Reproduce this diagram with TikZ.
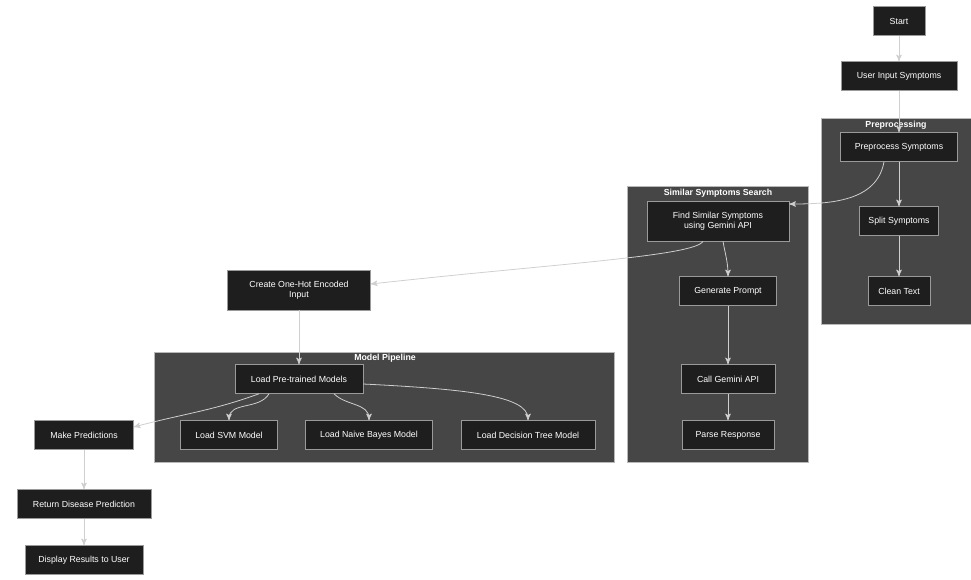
\documentclass[tikz,border=0pt]{standalone}
\usepackage{fontspec}
\setmainfont{Liberation Sans}
\usepackage{xcolor}
\usetikzlibrary{arrows}
\definecolor{nodefill}{HTML}{1E1E1E}
\definecolor{nodeline}{HTML}{9A9A9A}
\definecolor{clusterfill}{HTML}{464646}
\definecolor{clusterline}{HTML}{B8B8B8}
\definecolor{edgecol}{HTML}{CFCFCF}
\tikzset{
	proc node/.style={rectangle,draw=nodeline,line width=0.3pt,fill=nodefill,text=white,
		font=\fontsize{5}{6}\selectfont,align=center,minimum height=0.58cm,inner sep=1pt},
	cluster/.style={rectangle,draw=clusterline,line width=0.3pt,fill=clusterfill,inner sep=0pt},
	cluster title/.style={text=white,font=\fontsize{5}{6}\selectfont\bfseries,inner sep=1pt},
	flow/.style={draw=edgecol,line width=0.45pt}
}

\begin{document}
\begin{tikzpicture}[x=0.02cm,y=-0.02cm,->,>=stealth']
	\useasboundingbox (0,0) rectangle (971,579);
	\node [cluster,minimum width=3.0cm,minimum height=4.12cm] (prepbox) at (896,221) {};
	\node [cluster,minimum width=3.62cm,minimum height=5.52cm] (searchbox) at (717.5,324) {};
	\node [cluster,minimum width=9.2cm,minimum height=2.2cm] (modelbox) at (384,407) {};
	\node [cluster title] (preptitle) at (896,125) {Preprocessing};
	\node [cluster title] (searchtitle) at (718,193) {Similar Symptoms Search};
	\node [cluster title] (modeltitle) at (385,358) {Model Pipeline};

	\node [proc node,minimum width=1.04cm] (start) at (899,21) {Start};
	\node [proc node,minimum width=2.32cm] (input) at (899,76) {User Input Symptoms};
	\node [proc node,minimum width=2.34cm] (prep) at (899,147) {Preprocess Symptoms};
	\node [proc node,minimum width=1.58cm] (split) at (899,221) {Split Symptoms};
	\node [proc node,minimum width=1.24cm] (clean) at (899,291) {Clean Text};
	\node [proc node,minimum width=2.84cm,minimum height=0.8cm] (find) at (718,221) {Find Similar Symptoms\\using Gemini API};
	\node [proc node,minimum width=1.94cm] (prompt) at (728,291) {Generate Prompt};
	\node [proc node,minimum width=1.88cm] (call) at (728,379) {Call Gemini API};
	\node [proc node,minimum width=1.84cm] (parse) at (728,435) {Parse Response};
	\node [proc node,minimum width=2.86cm,minimum height=0.8cm] (onehot) at (299,290) {Create One-Hot Encoded\\Input};
	\node [proc node,minimum width=2.56cm] (loadpre) at (299,379) {Load Pre-trained Models};
	\node [proc node,minimum width=1.94cm] (svm) at (229,435) {Load SVM Model};
	\node [proc node,minimum width=2.54cm] (nb) at (369,435) {Load Naive Bayes Model};
	\node [proc node,minimum width=2.68cm] (dt) at (528,435) {Load Decision Tree Model};
	\node [proc node,minimum width=1.98cm] (make) at (84,435) {Make Predictions};
	\node [proc node,minimum width=2.68cm] (ret) at (84,504) {Return Disease Prediction};
	\node [proc node,minimum width=2.36cm] (disp) at (84,560) {Display Results to User};

	\draw [flow] (start) -- (input);
	\draw [flow] (input) -- (prep);
	\draw [flow] (prep) -- (split);
	\draw [flow] (split) -- (clean);
	\draw [flow] ([xshift=-0.3cm]prep.south) to[out=-100,in=0] ([yshift=0.34cm]find.east);
	\draw [flow] ([xshift=0.1cm]find.south) to[out=-80,in=90] (prompt.north);
	\draw [flow] (prompt) -- (call);
	\draw [flow] (call) -- (parse);
	\draw [flow] ([xshift=-0.3cm]find.south) .. controls +(-8,15) and +(180,-20) .. ([yshift=0.12cm]onehot.east);
	\draw [flow] (onehot) -- (loadpre);
	\draw [flow] ([xshift=-0.6cm]loadpre.south) to[out=-120,in=90] (svm.north);
	\draw [flow] ([xshift=0.7cm]loadpre.south) to[out=-45,in=90] (nb.north);
	\draw [flow] ([yshift=-0.1cm]loadpre.east) .. controls +(100,5) and +(0,-25) .. (dt.north);
	\draw [flow] ([xshift=-0.8cm]loadpre.south) to[out=-160,in=15] ([yshift=0.16cm]make.east);
	\draw [flow] (make) -- (ret);
	\draw [flow] (ret) -- (disp);
\end{tikzpicture}
\end{document}
